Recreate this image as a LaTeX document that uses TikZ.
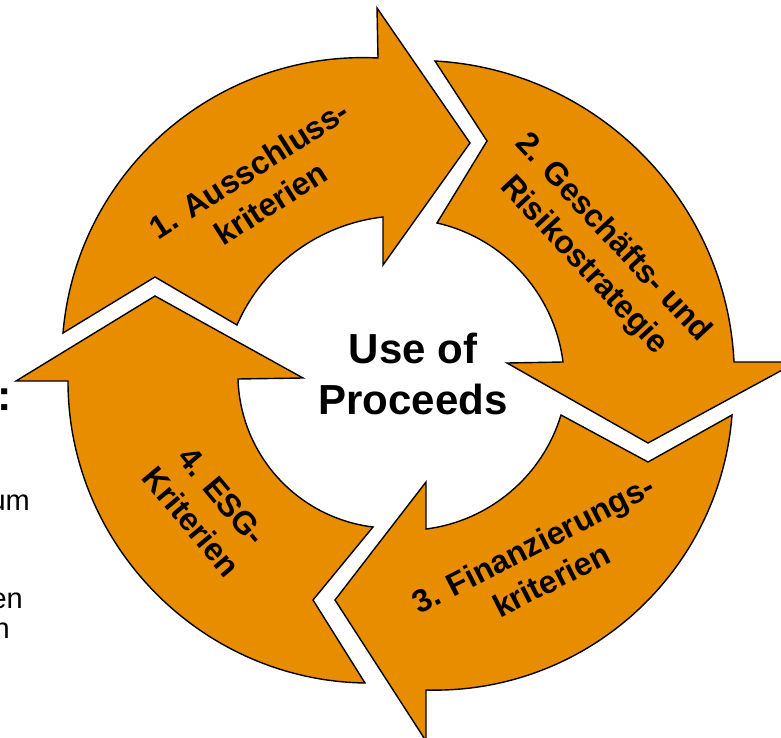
\documentclass[tikz,border=0pt]{standalone}
\usepackage{fontspec}
\setmainfont{Liberation Sans}
\begin{document}
\definecolor{arrowfill}{RGB}{232,141,0}
\begin{tikzpicture}[x=1pt,y=1pt,
  cyclearrow/.style={fill=arrowfill, draw=black, line width=1.4pt, line join=miter},
  steplabel/.style={font=\fontsize{32}{40}\selectfont\bfseries, align=center, inner sep=0pt},
  sidetext/.style={font=\fontsize{29}{30}\selectfont, inner sep=0pt, anchor=base east}]
\useasboundingbox (0,-738) rectangle (781,0);

% 1. Ausschluss-kriterien (top, pointing right)
\draw[cyclearrow] (63,-333) to[bend left=44, looseness=0.99] (378,-58)
  -- (377,-8) -- (470,-143) -- (383,-265) -- (383,-217)
  to[bend right=30, looseness=0.913] (237,-325) -- (155,-277) -- cycle;

% 2. Geschaefts- und Risikostrategie (right, pointing down)
\draw[cyclearrow] (435,-61) to[bend left=42, looseness=0.977] (734,-362)
  -- (797,-362) -- (648,-443) -- (507,-363) -- (563,-362)
  to[bend right=35, looseness=0.936] (437,-223) -- (487,-141) -- cycle;

% 3. Finanzierungskriterien (bottom, pointing left)
\draw[cyclearrow] (732,-415) to[bend left=43.6, looseness=0.99] (426,-690)
  -- (426,-741) -- (335,-600) -- (426,-482) -- (426,-529)
  to[bend right=33, looseness=0.925] (561,-415) -- (648,-462) -- cycle;

% 4. ESG-Kriterien (left, pointing up)
\draw[cyclearrow] (365,-683) to[bend left=44.6, looseness=0.99] (68,-381)
  -- (16,-381) -- (155,-296) -- (303,-378) -- (238,-379)
  to[bend right=40.6, looseness=0.968] (373,-527) -- (313,-600) -- cycle;

% labels on the arrows
\node[steplabel, rotate=32.5] (t1) at (260,-186) {1. Ausschluss-\\kriterien};
\node[steplabel, rotate=-47] (t2) at (598,-252) {2. Gesch\"afts- und\\Risikostrategie};
\node[steplabel, rotate=27] (t3) at (542,-562) {3. Finanzierungs-\\kriterien};
\node[steplabel, rotate=-50] (t4) at (207,-509) {4. ESG-\\Kriterien};

% centre
\node[font=\fontsize{42}{51}\selectfont\bfseries, align=center, inner sep=0pt] (centre) at (413,-374) {Use of\\Proceeds};

% text running in from the left margin
\node[font=\fontsize{43}{50}\selectfont\bfseries, inner sep=0pt, anchor=base east] (colon) at (12,-410) {:};
\node[sidetext] (s1) at (30,-510) {um};
\node[sidetext] (s2) at (23,-608) {en};
\node[sidetext] (s3) at (10,-638) {n};
\end{tikzpicture}
\end{document}
